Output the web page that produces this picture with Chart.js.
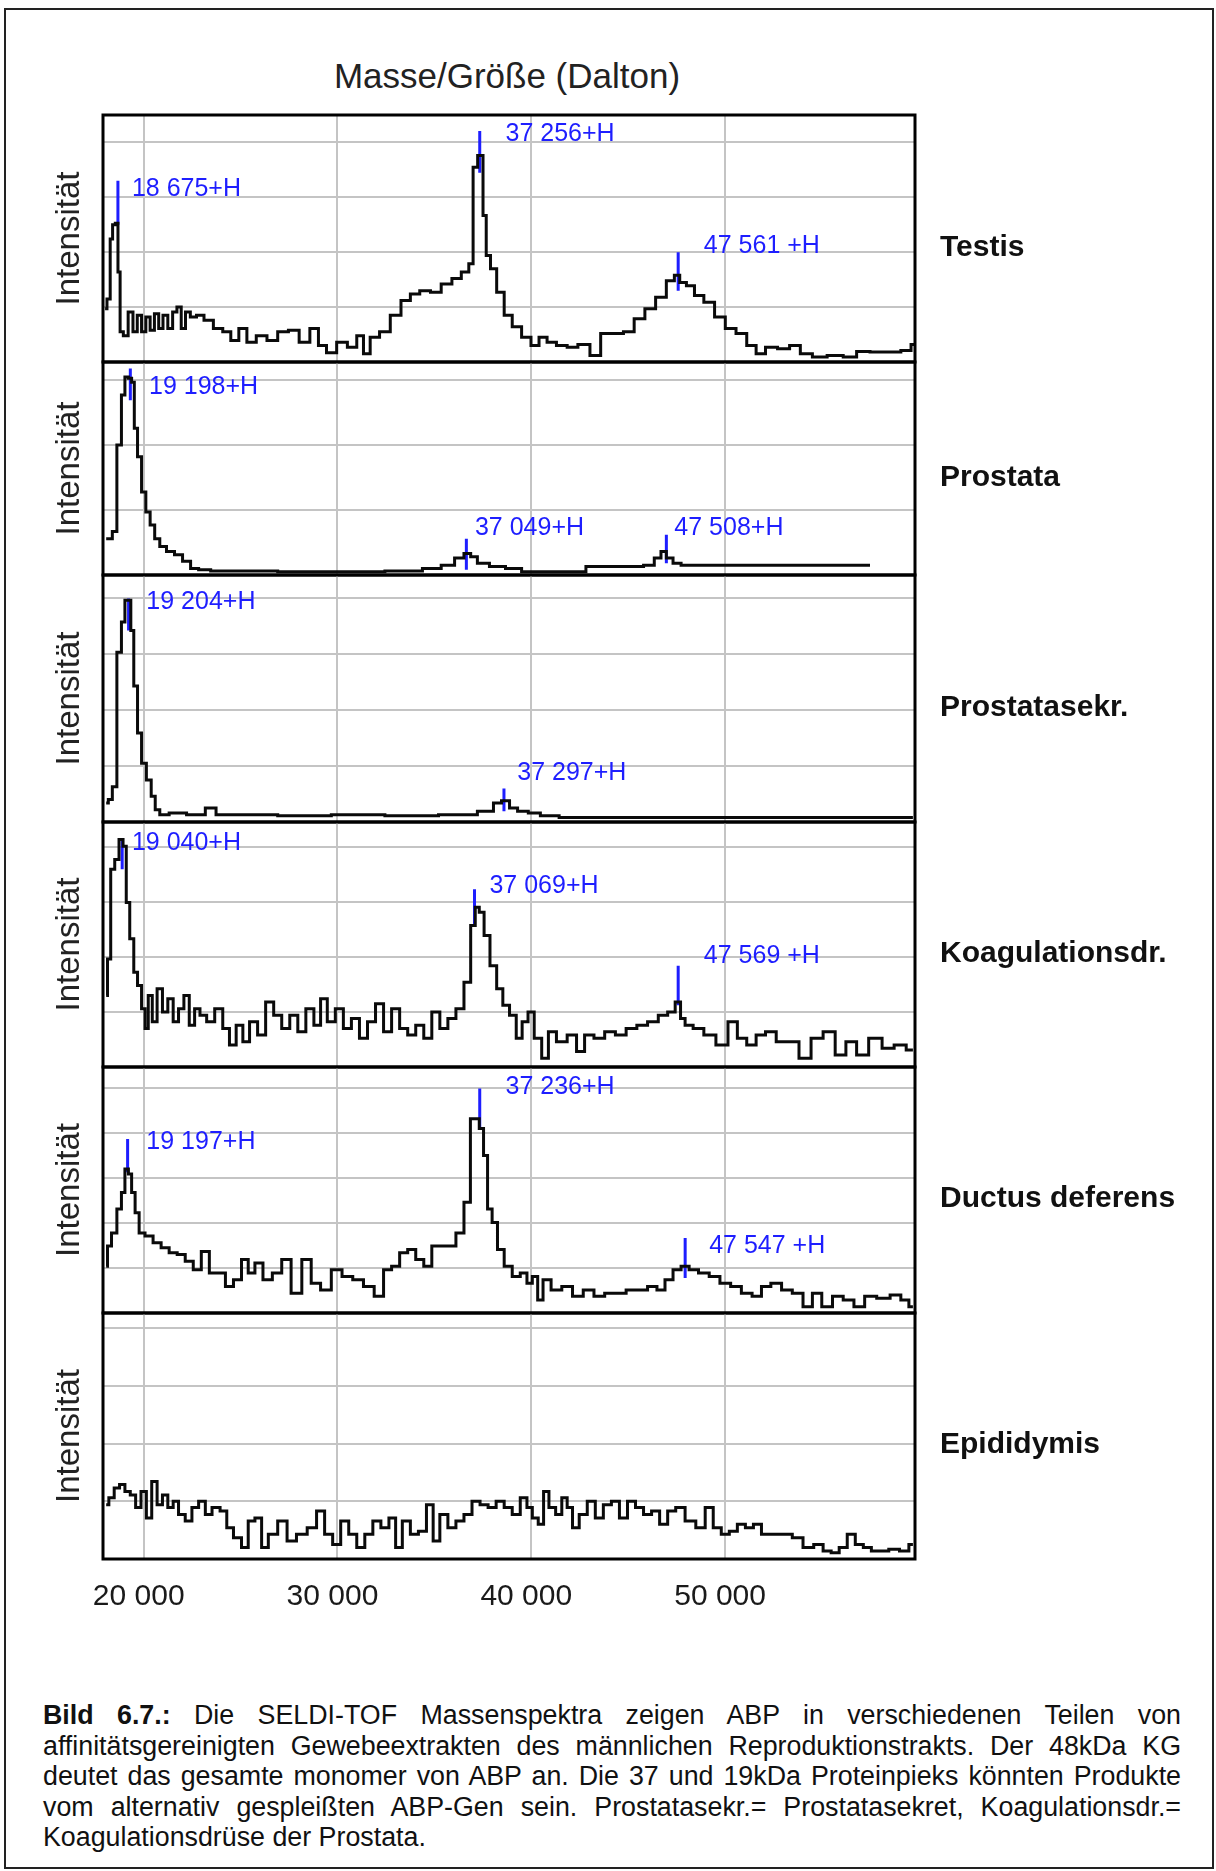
<!DOCTYPE html>
<html>
<head>
<meta charset="utf-8">
<script src="https://cdn.jsdelivr.net/npm/chart.js@4.4.1/dist/chart.umd.min.js"></script>
<style>
  body { margin: 0; background: #fff; }
  #page { position: relative; width: 1216px; height: 1871px; overflow: hidden;
          font-family: "Liberation Sans", Arial, Helvetica, sans-serif; color: #111; }
  #frame { position: absolute; left: 4px; top: 8px; width: 1210px; height: 1861px;
           border: 2px solid #222; box-sizing: border-box; }
  #title { position: absolute; left: 0; top: 56px; width: 1014px; text-align: center;
           font-size: 35px; line-height: 40px; color: #222; }
  #caption { position: absolute; left: 43px; top: 1700px; width: 1138px;
             font-size: 26.8px; line-height: 30.5px; }
  #caption div { text-align: justify; text-align-last: justify; }
  #caption div:last-child { text-align-last: left; }
</style>
</head>
<body>
<div id="page">
  <div id="frame"></div>
  <div id="title">Masse/Größe (Dalton)</div>
  <div id="caption">
    <div><b>Bild 6.7.:</b> Die SELDI-TOF Massenspektra zeigen ABP in verschiedenen Teilen von</div>
    <div>affinitätsgereinigten Gewebeextrakten des männlichen Reproduktionstrakts. Der 48kDa KG</div>
    <div>deutet das gesamte monomer von ABP an. Die 37 und 19kDa Proteinpieks könnten Produkte</div>
    <div>vom alternativ gespleißten ABP-Gen sein. Prostatasekr.= Prostatasekret, Koagulationsdr.=</div>
    <div>Koagulationsdrüse der Prostata.</div>
  </div>
</div>
<script>
// x axis (Dalton)
const xRange = [17900, 59800];
const xTicks = [20000, 30000, 40000, 50000];
const xTickLabels = ['20 000', '30 000', '40 000', '50 000'];

const panelNames = ['Testis', 'Prostata', 'Prostatasekr.', 'Koagulationsdr.', 'Ductus deferens', 'Epididymis'];
// top of each intensity axis, in gridline units
const yMax = [4.5, 3.28, 4.41, 4.45, 5.47, 4.26];

// Testis
const testisMass = [18008, 18202, 18340, 18451, 18617, 18728, 18838, 19060, 19336, 19557, 19779, 20000, 20221, 20443, 20664, 20885, 21106, 21383, 21604, 21825, 22047, 22268, 22545, 22904, 23319, 23872, 24287, 24702, 25117, 25532, 26085, 26638, 27191, 27745, 28298, 28851, 29183, 29681, 30234, 30787, 31202, 31479, 31894, 32447, 33000, 33553, 33968, 34521, 35074, 35628, 36181, 36596, 36956, 37039, 37427, 37592, 37758, 38034, 38394, 38809, 39224, 39777, 40192, 40607, 41022, 41575, 42128, 42681, 43373, 43788, 44479, 45032, 45585, 46139, 46692, 47245, 47522, 47798, 48213, 48628, 49181, 49735, 50288, 50841, 51394, 51809, 52362, 53053, 53606, 54160, 54851, 55681, 56511, 57064, 57894, 58724, 59416, 59776];
const testisInt = [0.97, 1.15, 2.24, 2.50, 2.53, 1.64, 0.55, 0.48, 0.91, 0.55, 0.85, 0.55, 0.82, 0.58, 0.88, 0.61, 0.85, 0.61, 0.91, 1.00, 0.61, 0.91, 0.82, 0.85, 0.76, 0.61, 0.55, 0.39, 0.61, 0.36, 0.48, 0.39, 0.55, 0.58, 0.36, 0.61, 0.30, 0.17, 0.36, 0.27, 0.48, 0.15, 0.45, 0.55, 0.85, 1.12, 1.24, 1.30, 1.27, 1.42, 1.52, 1.64, 1.79, 3.55, 3.76, 2.67, 1.94, 1.70, 1.27, 0.85, 0.64, 0.45, 0.30, 0.45, 0.36, 0.30, 0.27, 0.32, 0.12, 0.52, 0.52, 0.55, 0.79, 0.97, 1.18, 1.48, 1.58, 1.45, 1.39, 1.21, 1.09, 0.82, 0.61, 0.52, 0.30, 0.15, 0.27, 0.24, 0.30, 0.15, 0.09, 0.12, 0.09, 0.19, 0.18, 0.18, 0.21, 0.32];
const testisPeakMass = [18670, 37340, 47580];
const testisPeakLow = [2.50, 3.45, 1.30];
const testisPeakHigh = [3.30, 4.21, 2.00];
const testisPeakText = ['18 675+H', '37 256+H', '47 561 +H'];
const testisTextMass = [19390, 38670, 48904];
const testisTextInt = [3.15, 4.16, 2.12];

// Prostata
const prostataMass = [18064, 18285, 18478, 18754, 18948, 19114, 19308, 19446, 19585, 19779, 20000, 20221, 20443, 20692, 20968, 21383, 21798, 22213, 22627, 23042, 23872, 25532, 28298, 31064, 33830, 34936, 35766, 36319, 36734, 37011, 37426, 38256, 39085, 39915, 42128, 43511, 45447, 46139, 46554, 46830, 47107, 47522, 47937, 50426, 53192, 55958, 57479];
const prostataInt = [0.56, 0.56, 0.67, 2.00, 2.77, 3.05, 3.03, 2.97, 2.26, 1.82, 1.28, 0.97, 0.77, 0.56, 0.44, 0.36, 0.31, 0.21, 0.10, 0.08, 0.06, 0.06, 0.05, 0.05, 0.06, 0.10, 0.15, 0.26, 0.33, 0.28, 0.18, 0.13, 0.10, 0.05, 0.05, 0.13, 0.13, 0.15, 0.26, 0.36, 0.26, 0.18, 0.15, 0.15, 0.15, 0.15, 0.15];
const prostataPeakMass = [19310, 36650, 46970];
const prostataPeakLow = [2.69, 0.08, 0.18];
const prostataPeakHigh = [3.18, 0.56, 0.62];
const prostataPeakText = ['19 198+H', '37 049+H', '47 508+H'];
const prostataTextMass = [20276, 37093, 47382];
const prostataTextInt = [2.90, 0.72, 0.72];

// Prostatasekret
const sekretMass = [18064, 18285, 18478, 18754, 18948, 19114, 19280, 19391, 19585, 19779, 20000, 20276, 20498, 20692, 20968, 21659, 22765, 23595, 23872, 25532, 28298, 31064, 33830, 36596, 37841, 38256, 38671, 39085, 39500, 40192, 40745, 42128, 44894, 47660, 50426, 53192, 55958, 59692];
const sekretInt = [0.34, 0.40, 0.63, 3.03, 3.57, 3.96, 3.96, 3.42, 2.43, 1.59, 1.05, 0.75, 0.46, 0.22, 0.13, 0.16, 0.13, 0.25, 0.13, 0.13, 0.11, 0.13, 0.11, 0.13, 0.19, 0.34, 0.38, 0.25, 0.19, 0.16, 0.11, 0.08, 0.08, 0.08, 0.08, 0.08, 0.08, 0.08];
const sekretPeakMass = [19220, 38590];
const sekretPeakLow = [3.42, 0.19];
const sekretPeakHigh = [3.99, 0.60];
const sekretPeakText = ['19 204+H', '37 297+H'];
const sekretTextMass = [20137, 39278];
const sekretTextInt = [3.93, 0.87];

// Koagulationsdrüse
const koagMass = [18064, 18201, 18395, 18616, 18838, 19031, 19169, 19391, 19585, 19779, 20000, 20138, 20332, 20553, 20830, 21106, 21383, 21659, 21936, 22213, 22489, 22766, 23042, 23457, 23872, 24287, 24564, 24979, 25255, 25670, 26085, 26500, 26915, 27330, 27745, 28160, 28575, 28990, 29266, 29681, 30096, 30511, 30926, 31341, 31756, 32170, 32585, 33000, 33415, 33830, 34245, 34660, 35074, 35489, 35904, 36319, 36734, 37011, 37205, 37426, 37703, 38034, 38394, 38670, 39085, 39362, 39694, 39970, 40330, 40745, 41021, 41575, 42128, 42543, 42958, 43511, 44064, 44617, 45171, 45724, 46277, 46830, 47245, 47605, 47799, 48075, 48628, 49181, 49873, 50426, 50841, 51394, 51809, 52362, 52915, 53468, 54160, 54713, 55404, 55958, 56511, 57064, 57756, 58447, 59000, 59692];
const koagInt = [1.30, 1.96, 3.59, 3.77, 4.13, 4.01, 2.99, 2.33, 1.72, 1.48, 1.06, 0.70, 1.30, 0.82, 1.42, 1.00, 1.24, 0.82, 1.06, 1.30, 0.76, 1.06, 0.94, 0.82, 1.06, 0.70, 0.40, 0.76, 0.46, 0.82, 0.58, 1.18, 0.94, 0.70, 0.94, 0.64, 1.06, 0.76, 1.24, 0.82, 1.06, 0.70, 0.88, 0.52, 0.82, 1.15, 0.64, 1.06, 0.70, 0.58, 0.76, 0.52, 1.00, 0.70, 0.88, 1.06, 1.54, 2.57, 2.90, 2.81, 2.39, 1.84, 1.42, 1.12, 0.94, 0.52, 0.82, 1.00, 0.52, 0.16, 0.64, 0.46, 0.58, 0.28, 0.58, 0.52, 0.64, 0.58, 0.70, 0.76, 0.82, 0.94, 1.00, 1.18, 0.88, 0.76, 0.70, 0.58, 0.40, 0.82, 0.52, 0.40, 0.58, 0.64, 0.46, 0.46, 0.16, 0.52, 0.64, 0.22, 0.46, 0.22, 0.52, 0.34, 0.40, 0.31];
const koagPeakMass = [18890, 37070, 47580];
const koagPeakLow = [3.59, 2.57, 1.12];
const koagPeakHigh = [4.16, 3.23, 1.84];
const koagPeakText = ['19 040+H', '37 069+H', '47 569 +H'];
const koagTextMass = [19390, 37840, 48904];
const koagTextInt = [4.07, 3.29, 2.02];

// Ductus deferens
const ductusMass = [18064, 18201, 18478, 18754, 18948, 19114, 19308, 19446, 19668, 19861, 20276, 20692, 21106, 21521, 21936, 22350, 22765, 23180, 23595, 24010, 24425, 24840, 25255, 25532, 25947, 26362, 26915, 27330, 27883, 28436, 28851, 29404, 29958, 30511, 31064, 31617, 32170, 32585, 33000, 33415, 33830, 34245, 34660, 35074, 35489, 35904, 36319, 36734, 36983, 37205, 37426, 37647, 37841, 38117, 38394, 38809, 39224, 39638, 39915, 40192, 40468, 40745, 41298, 41851, 42405, 42958, 43511, 44064, 44617, 45171, 45724, 46277, 46692, 47107, 47522, 47937, 48352, 48905, 49458, 50011, 50564, 51117, 51670, 52085, 52638, 53192, 53745, 54298, 54713, 55266, 55819, 56373, 56926, 57479, 58170, 58862, 59277, 59692];
const ductusInt = [1.04, 1.49, 1.78, 2.31, 2.68, 3.20, 3.09, 2.68, 2.23, 1.78, 1.71, 1.56, 1.45, 1.34, 1.30, 1.15, 0.96, 1.37, 0.89, 0.89, 0.59, 0.74, 1.19, 0.89, 1.11, 0.74, 0.89, 1.19, 0.44, 1.19, 0.66, 0.51, 0.96, 0.81, 0.74, 0.59, 0.37, 0.96, 1.04, 1.34, 1.41, 1.19, 1.04, 1.49, 1.49, 1.49, 1.78, 2.46, 4.32, 4.32, 4.10, 3.50, 2.31, 2.01, 1.41, 1.04, 0.81, 0.89, 0.66, 0.81, 0.29, 0.74, 0.51, 0.59, 0.37, 0.51, 0.37, 0.44, 0.44, 0.51, 0.51, 0.59, 0.51, 0.74, 0.96, 1.04, 0.96, 0.89, 0.81, 0.66, 0.59, 0.44, 0.37, 0.59, 0.66, 0.51, 0.44, 0.14, 0.44, 0.14, 0.37, 0.29, 0.14, 0.37, 0.33, 0.40, 0.29, 0.14];
const ductusPeakMass = [19170, 37340, 47940];
const ductusPeakLow = [3.13, 4.10, 0.78];
const ductusPeakHigh = [3.87, 4.99, 1.67];
const ductusPeakText = ['19 197+H', '37 236+H', '47 547 +H'];
const ductusTextMass = [20137, 38670, 49181];
const ductusTextInt = [3.80, 5.03, 1.49];

// Epididymis
const epidMass = [18064, 18340, 18616, 18893, 19169, 19446, 19722, 20000, 20276, 20553, 20830, 21106, 21383, 21659, 21936, 22350, 22627, 23042, 23319, 23734, 24149, 24425, 24840, 25255, 25532, 25947, 26223, 26638, 27191, 27606, 28160, 28713, 29128, 29543, 29958, 30373, 30787, 31202, 31617, 32032, 32447, 32862, 33138, 33553, 33968, 34383, 34798, 35074, 35489, 35904, 36319, 36734, 37149, 37564, 37979, 38394, 38809, 39224, 39638, 39915, 40192, 40524, 40745, 41077, 41436, 41713, 41990, 42266, 42681, 43096, 43511, 43926, 44341, 44756, 45171, 45585, 46000, 46415, 46830, 47245, 47660, 48213, 48766, 49181, 49596, 50011, 50426, 50841, 51256, 51670, 52085, 52638, 53192, 53745, 54298, 54851, 55266, 55681, 56096, 56511, 56926, 57341, 57756, 58170, 58724, 59277, 59692];
const epidInt = [0.94, 1.06, 1.23, 1.29, 1.17, 1.11, 0.89, 1.17, 0.71, 1.34, 0.94, 1.11, 0.89, 1.00, 0.77, 0.66, 0.89, 1.00, 0.77, 0.89, 0.83, 0.54, 0.37, 0.20, 0.66, 0.71, 0.20, 0.43, 0.66, 0.31, 0.43, 0.54, 0.83, 0.43, 0.25, 0.66, 0.43, 0.20, 0.43, 0.66, 0.54, 0.71, 0.20, 0.66, 0.43, 0.48, 0.94, 0.31, 0.77, 0.54, 0.66, 0.77, 1.00, 0.94, 0.89, 1.00, 0.89, 0.77, 1.06, 0.89, 0.71, 0.60, 1.17, 0.89, 0.77, 1.06, 0.89, 0.54, 0.77, 1.00, 0.71, 0.94, 1.00, 0.71, 1.00, 0.89, 0.77, 0.83, 0.60, 0.83, 0.89, 0.66, 0.54, 0.89, 0.54, 0.43, 0.48, 0.60, 0.54, 0.60, 0.43, 0.43, 0.43, 0.37, 0.20, 0.25, 0.14, 0.11, 0.20, 0.43, 0.25, 0.20, 0.14, 0.14, 0.17, 0.14, 0.25];

const panels = [
  { mass: testisMass, int: testisInt, peakMass: testisPeakMass, peakLow: testisPeakLow, peakHigh: testisPeakHigh, text: testisPeakText, textMass: testisTextMass, textInt: testisTextInt },
  { mass: prostataMass, int: prostataInt, peakMass: prostataPeakMass, peakLow: prostataPeakLow, peakHigh: prostataPeakHigh, text: prostataPeakText, textMass: prostataTextMass, textInt: prostataTextInt },
  { mass: sekretMass, int: sekretInt, peakMass: sekretPeakMass, peakLow: sekretPeakLow, peakHigh: sekretPeakHigh, text: sekretPeakText, textMass: sekretTextMass, textInt: sekretTextInt },
  { mass: koagMass, int: koagInt, peakMass: koagPeakMass, peakLow: koagPeakLow, peakHigh: koagPeakHigh, text: koagPeakText, textMass: koagTextMass, textInt: koagTextInt },
  { mass: ductusMass, int: ductusInt, peakMass: ductusPeakMass, peakLow: ductusPeakLow, peakHigh: ductusPeakHigh, text: ductusPeakText, textMass: ductusTextMass, textInt: ductusTextInt },
  { mass: epidMass, int: epidInt, peakMass: [], peakLow: [], peakHigh: [], text: [], textMass: [], textInt: [] }
];

// layout: pixel edges of the stacked panels
const panelEdges = [115, 362, 575, 822, 1067, 1313, 1558];
const PAD = 12;
const TICK_PAD = 20;
const AXIS_H = 36 + 2 * TICK_PAD + 1;   // room the bottom axis takes in the last panel
const FONT = '"Liberation Sans", Arial, Helvetica, sans-serif';
const BLUE = '#1e1eff';

Chart.defaults.font.family = FONT;
Chart.defaults.color = '#1a1a1a';

// frame round each panel, tissue name on the right, peak labels
const panelDecor = {
  id: 'panelDecor',
  afterDraw(chart, args, opts) {
    const { ctx, chartArea: a } = chart;
    const xs = chart.scales.x, ys = chart.scales.y;
    ctx.save();
    ctx.strokeStyle = '#000';
    ctx.lineWidth = 3;
    ctx.strokeRect(a.left, a.top, a.right - a.left, a.bottom - a.top);

    ctx.textBaseline = 'middle';
    ctx.textAlign = 'left';
    ctx.fillStyle = '#111';
    ctx.font = 'bold 30px ' + FONT;
    ctx.fillText(opts.name, a.right + 25, (a.top + a.bottom) / 2 + 9);

    ctx.fillStyle = BLUE;
    ctx.font = '25px ' + FONT;
    opts.text.forEach((t, k) => {
      ctx.fillText(t, xs.getPixelForValue(opts.textMass[k]), ys.getPixelForValue(opts.textInt[k]));
    });
    ctx.restore();
  }
};

const page = document.getElementById('page');

panels.forEach((p, i) => {
  const last = i === panels.length - 1;
  const h = panelEdges[i + 1] - panelEdges[i];
  const canvas = document.createElement('canvas');
  canvas.width = 1216;
  canvas.height = h + 2 * PAD + (last ? AXIS_H : 0);
  canvas.style.cssText = 'position:absolute;left:0;top:' + (panelEdges[i] - PAD) + 'px;';
  page.appendChild(canvas);

  // blue peak markers, gaps between them
  const markers = [];
  p.peakMass.forEach((m, k) => {
    markers.push({ x: m, y: p.peakLow[k] }, { x: m, y: p.peakHigh[k] }, { x: m, y: null });
  });

  new Chart(canvas, {
    type: 'line',
    data: {
      datasets: [
        {
          data: p.mass.map((m, k) => ({ x: m, y: p.int[k] })),
          borderColor: '#0a0a0a',
          borderWidth: 3,
          pointRadius: 0,
          stepped: 'middle'
        },
        {
          data: markers,
          borderColor: BLUE,
          borderWidth: 3,
          pointRadius: 0,
          spanGaps: false
        }
      ]
    },
    options: {
      responsive: false,
      animation: false,
      devicePixelRatio: 1,
      layout: { padding: { left: 50.4, right: 301, top: PAD, bottom: PAD } },
      plugins: {
        legend: { display: false },
        tooltip: { enabled: false },
        panelDecor: { name: panelNames[i], text: p.text, textMass: p.textMass, textInt: p.textInt }
      },
      scales: {
        x: {
          type: 'linear',
          min: xRange[0],
          max: xRange[1],
          border: { display: false },
          grid: { color: '#c4c4c4', lineWidth: 2, drawTicks: false },
          afterBuildTicks: ax => { ax.ticks = xTicks.map(v => ({ value: v })); },
          ticks: {
            display: last,
            padding: TICK_PAD,
            labelOffset: -5,
            font: { size: 30 },
            color: '#1a1a1a',
            maxRotation: 0,
            autoSkip: false,
            callback: v => xTickLabels[xTicks.indexOf(v)]
          }
        },
        y: {
          type: 'linear',
          min: 0,
          max: yMax[i],
          border: { display: false },
          grid: { color: '#c4c4c4', lineWidth: 2, drawTicks: false },
          afterBuildTicks: ax => {
            ax.ticks = ax.ticks.filter(t => t.value > 0 && t.value < yMax[i] && Number.isInteger(t.value));
          },
          ticks: { display: false, stepSize: 1 },
          title: {
            display: true,
            text: 'Intensität',
            font: { size: 33 },
            color: '#222',
            padding: { top: 0, bottom: 13 }
          }
        }
      }
    },
    plugins: [panelDecor]
  });
});
</script>
</body>
</html>
